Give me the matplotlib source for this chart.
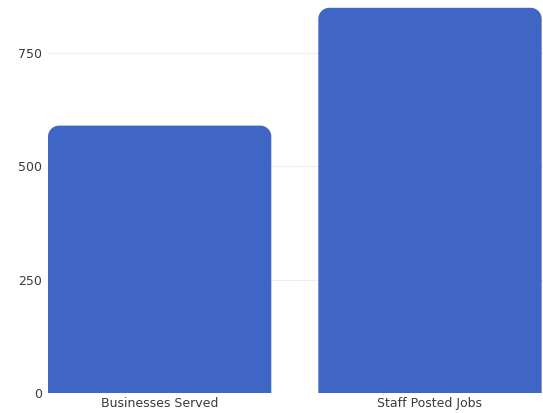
import matplotlib
matplotlib.use("Agg")
import matplotlib.pyplot as plt
from matplotlib.path import Path
from matplotlib.patches import PathPatch

categories = ["Businesses Served", "Staff Posted Jobs"]
values = [590, 850]
yticks = [0, 250, 500, 750]

W, H = 543, 413
fig = plt.figure(figsize=(W / 100, H / 100), dpi=100)
ax_left, ax_right, ax_bottom, ax_top = 48, 543, 393, 1
ax = fig.add_axes([ax_left / W, (H - ax_bottom) / H, (ax_right - ax_left) / W, (ax_bottom - ax_top) / H])

color = "#3F66C4"
width = 0.826
bars = ax.bar(range(len(categories)), values, width=width, color="none", edgecolor="none")
xlim = (-width / 2, 1 + width / 2 + 0.005)
ylim = (0, 865)
ax.set_xlim(*xlim)
ax.set_ylim(*ylim)

axw = ax_right - ax_left
axh = ax_bottom - ax_top
r_px = 11
rx = r_px * (xlim[1] - xlim[0]) / axw
ry = r_px * (ylim[1] - ylim[0]) / axh
k = 0.5523
for b in bars:
    x0 = b.get_x(); x1 = x0 + b.get_width(); y0 = 0; y1 = b.get_height()
    verts = [(x0, y0), (x0, y1 - ry),
             (x0, y1 - ry + k * ry), (x0 + rx - k * rx, y1), (x0 + rx, y1),
             (x1 - rx, y1),
             (x1 - rx + k * rx, y1), (x1, y1 - ry + k * ry), (x1, y1 - ry),
             (x1, y0), (x0, y0)]
    codes = [Path.MOVETO, Path.LINETO,
             Path.CURVE4, Path.CURVE4, Path.CURVE4,
             Path.LINETO,
             Path.CURVE4, Path.CURVE4, Path.CURVE4,
             Path.LINETO, Path.CLOSEPOLY]
    ax.add_patch(PathPatch(Path(verts, codes), facecolor=color, edgecolor="none", zorder=3))

ax.set_yticks(yticks)
ax.set_yticklabels([str(t) for t in yticks])
ax.set_xticks(range(len(categories)))
ax.set_xticklabels(categories)
for s in ax.spines.values():
    s.set_visible(False)
ax.grid(axis="y", color="#eeeeee", linewidth=0.8, zorder=0)
ax.tick_params(axis="both", length=0, labelsize=9, labelcolor="#3a3a3a")
ax.tick_params(axis="y", pad=4)
ax.tick_params(axis="x", pad=3)
for lbl in ax.get_xticklabels() + ax.get_yticklabels():
    lbl.set_fontfamily("DejaVu Sans")
ax.set_axisbelow(True)

fig.savefig("out.png", dpi=100)
